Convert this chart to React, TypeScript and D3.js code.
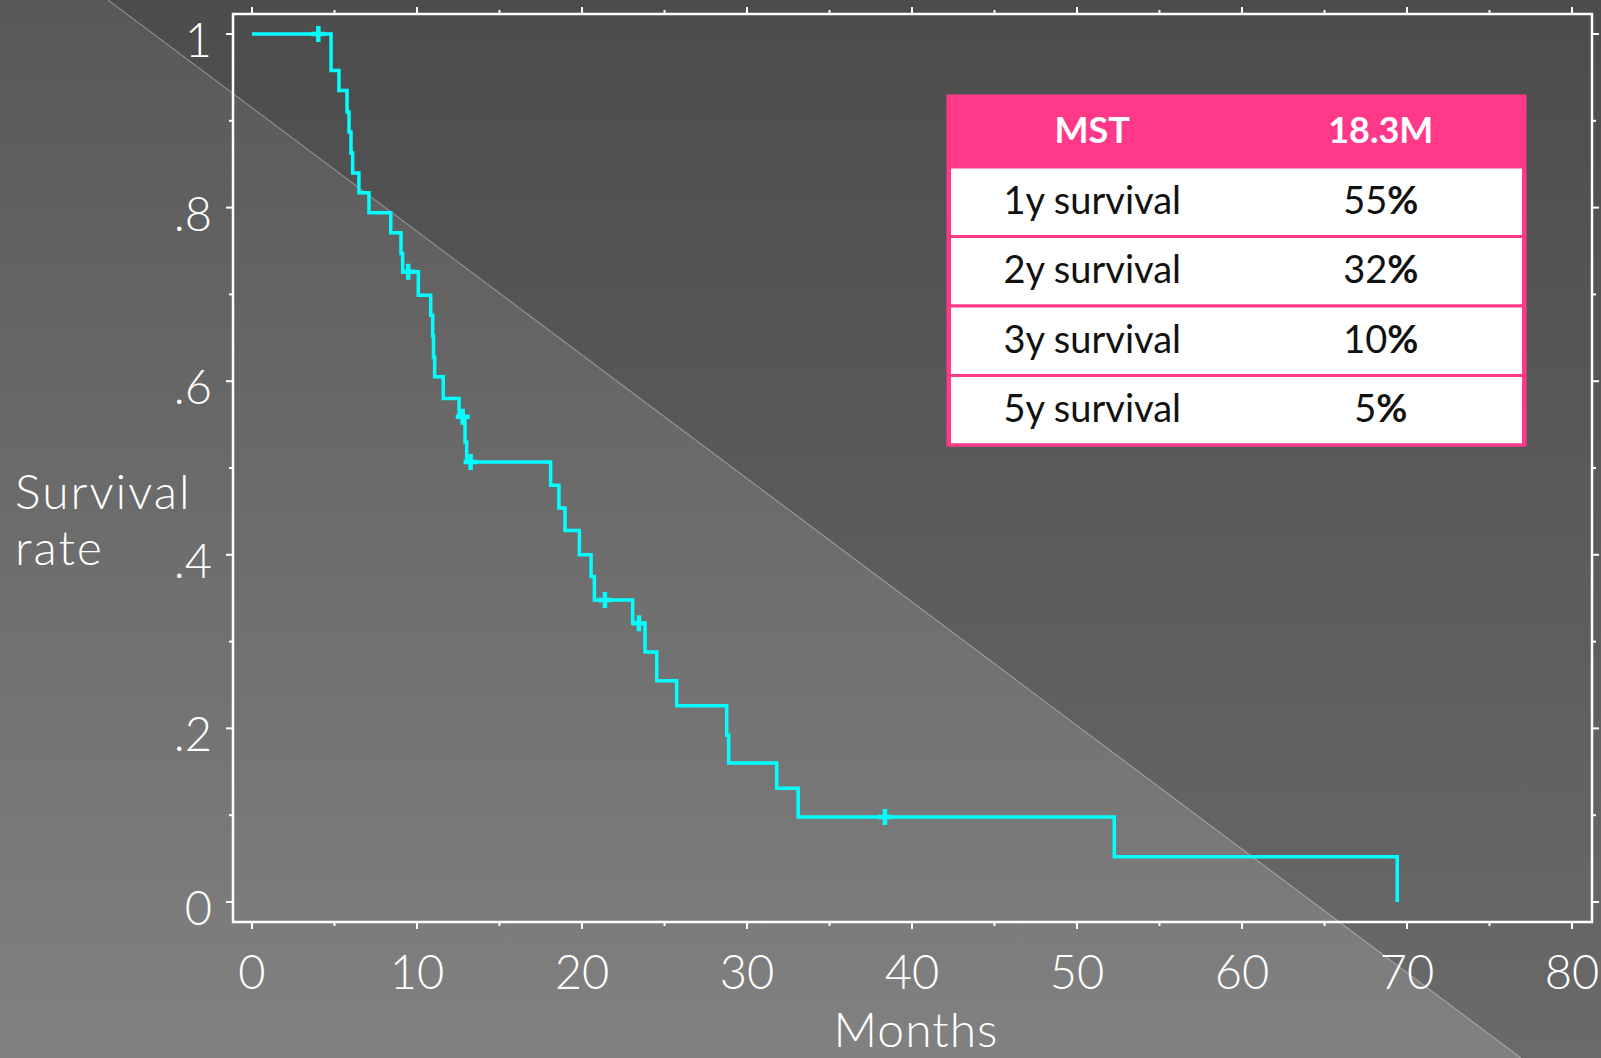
import { useEffect } from "react";
import * as d3 from "d3";

const W = 1601;
const H = 1058;

// Kaplan-Meier steps (months, survival after the step)
const eventMonths = [
  4.79, 5.27, 5.76, 5.88, 6.0, 6.1, 6.48, 7.09, 8.41, 9.03, 9.13, 10.08, 10.83,
  10.95, 11.0, 11.07, 11.59, 12.55, 12.91, 13.01, 18.1, 18.6, 18.97, 19.84,
  20.55, 20.75, 23.07, 23.82, 24.53, 25.74, 28.77, 28.89, 31.8, 33.1, 52.26,
  69.41,
];
const survival = [
  0.958, 0.935, 0.91, 0.887, 0.863, 0.84, 0.817, 0.794, 0.771, 0.747, 0.726,
  0.699, 0.676, 0.652, 0.628, 0.605, 0.58, 0.559, 0.53, 0.507, 0.48, 0.454,
  0.428, 0.4, 0.375, 0.348, 0.321, 0.288, 0.255, 0.226, 0.192, 0.16, 0.131,
  0.098, 0.052, 0,
];
// censored observations (months)
const censorMonths = [4.02, 9.47, 12.77, 13.25, 21.39, 23.45, 38.36];

// summary table
const headerCells = ["MST", "18.3M"];
const rowLabels = ["1y survival", "2y survival", "3y survival", "5y survival"];
const rowValues = ["55", "32", "10", "5"];

const FONT = "Lato, 'DejaVu Sans', sans-serif";
const PINK = "#ff3889";

const x = d3.scaleLinear().domain([0, 80]).range([252, 1572]);
const y = d3.scaleLinear().domain([0, 1]).range([902, 34]);

const frame = { left: 233, top: 14, right: 1592, bottom: 922 };

function survAt(t: number) {
  let s = 1;
  eventMonths.forEach((m, i) => {
    if (m <= t) s = survival[i];
  });
  return s;
}

const App = () => {
  useEffect(() => {
    document.body.style.margin = "0";
  }, []);

  const pts: [number, number][] = [[0, 1], ...eventMonths.map((m, i) => [m, survival[i]] as [number, number])];
  const line = d3
    .line<[number, number]>()
    .x((d) => x(d[0]))
    .y((d) => y(d[1]))
    .curve(d3.curveStepAfter);

  const xTicks = x.ticks(16);
  const yTicks = y.ticks(10);
  const yFmt = (v: number) => (v === 0 ? "0" : v === 1 ? "1" : d3.format(".1f")(v).replace(/^0/, ""));

  const tX = 948,
    tY = 96,
    tW = 577,
    headH = 71,
    rowH = 69.5;
  const colX = [tX + tW * 0.25, tX + tW * 0.75];

  return (
    <svg width={W} height={H} style={{ display: "block" }} fontFamily={FONT}>
      <defs>
        <linearGradient id="dark" gradientUnits="userSpaceOnUse" x1="0" y1="0" x2="0" y2={H}>
          <stop offset="0" stopColor="#4c4c4c" />
          <stop offset="1" stopColor="#6a6a6a" />
        </linearGradient>
        <linearGradient id="light" gradientUnits="userSpaceOnUse" x1="0" y1="0" x2="0" y2={H}>
          <stop offset="0" stopColor="#585858" />
          <stop offset="1" stopColor="#818181" />
        </linearGradient>
      </defs>
      <polygon points={`108,0 ${W},0 ${W},${H} 1521,${H}`} fill="url(#dark)" />
      <polygon points={`0,0 108,0 1521,${H} 0,${H}`} fill="url(#light)" />
      <line x1={108} y1={0} x2={1521} y2={H} stroke="rgba(255,255,255,0.2)" strokeWidth={1.2} />

      {/* frame */}
      <rect
        x={frame.left}
        y={frame.top}
        width={frame.right - frame.left}
        height={frame.bottom - frame.top}
        fill="none"
        stroke="#fff"
        strokeWidth={2.5}
      />

      {/* x ticks top and bottom */}
      {xTicks.map((v) => {
        const len = v % 10 === 0 ? 7 : 4;
        return (
          <g key={"x" + v} stroke="#fff" strokeWidth={2}>
            <line x1={x(v)} x2={x(v)} y1={frame.bottom} y2={frame.bottom + len} />
            <line x1={x(v)} x2={x(v)} y1={frame.top} y2={frame.top - len} />
          </g>
        );
      })}
      {xTicks
        .filter((v) => v % 10 === 0)
        .map((v) => (
          <text key={"xl" + v} x={x(v)} y={989} fill="#fff" fontSize={47} fontWeight={300} textAnchor="middle">
            {v}
          </text>
        ))}

      {/* y ticks left and right */}
      {yTicks.map((v) => {
        const major = Math.round(v * 10) % 2 === 0;
        const len = major ? 7 : 4;
        return (
          <g key={"y" + v} stroke="#fff" strokeWidth={2}>
            <line x1={frame.left} x2={frame.left - len} y1={y(v)} y2={y(v)} />
            <line x1={frame.right} x2={frame.right + len} y1={y(v)} y2={y(v)} />
          </g>
        );
      })}
      {yTicks
        .filter((v) => Math.round(v * 10) % 2 === 0)
        .map((v) => (
          <text key={"yl" + v} x={212} y={y(v) + 23} fill="#fff" fontSize={47} fontWeight={300} textAnchor="end">
            {yFmt(v)}
          </text>
        ))}

      <text
        x={(x(0) + x(80)) / 2 + 4}
        y={1047}
        fill="#fff"
        fontSize={48}
        fontWeight={300}
        letterSpacing={1}
        textAnchor="middle"
      >
        Months
      </text>
      <text x={15} y={509} fill="#fff" fontSize={48} fontWeight={300} letterSpacing={2}>
        Survival
      </text>
      <text x={15} y={565} fill="#fff" fontSize={48} fontWeight={300} letterSpacing={2}>
        rate
      </text>

      {/* survival curve */}
      <path d={line(pts) || ""} fill="none" stroke="#00ffff" strokeWidth={3.5} />
      {censorMonths.map((m) => (
        <path
          key={"c" + m}
          transform={`translate(${x(m)},${y(survAt(m))})`}
          d="M-7,0H7M0,-8V8"
          stroke="#00ffff"
          strokeWidth={4.5}
        />
      ))}

      {/* summary table */}
      <rect x={tX} y={tY} width={tW} height={headH} fill={PINK} />
      {rowLabels.map((lab, i) => {
        const ry = tY + headH + i * rowH;
        return (
          <g key={lab}>
            <rect x={tX + 1.5} y={ry} width={tW - 3} height={rowH} fill="#fff" stroke={PINK} strokeWidth={3} />
            <text x={colX[0]} y={ry + rowH / 2 + 12} fontSize={38} fill="#111" textAnchor="middle">
              {lab}
            </text>
            <text x={colX[1]} y={ry + rowH / 2 + 12} fontSize={38} fill="#111" textAnchor="middle">
              {rowValues[i]}
              <tspan fontWeight="bold">%</tspan>
            </text>
          </g>
        );
      })}
      <rect x={tX} y={tY} width={tW} height={headH + rowLabels.length * rowH} fill="none" stroke={PINK} strokeWidth={3} />
      {headerCells.map((c, i) => (
        <text key={c} x={colX[i]} y={tY + 47} fontSize={36} fontWeight="bold" fill="#fff" textAnchor="middle">
          {c}
        </text>
      ))}
    </svg>
  );
};

export default App;
